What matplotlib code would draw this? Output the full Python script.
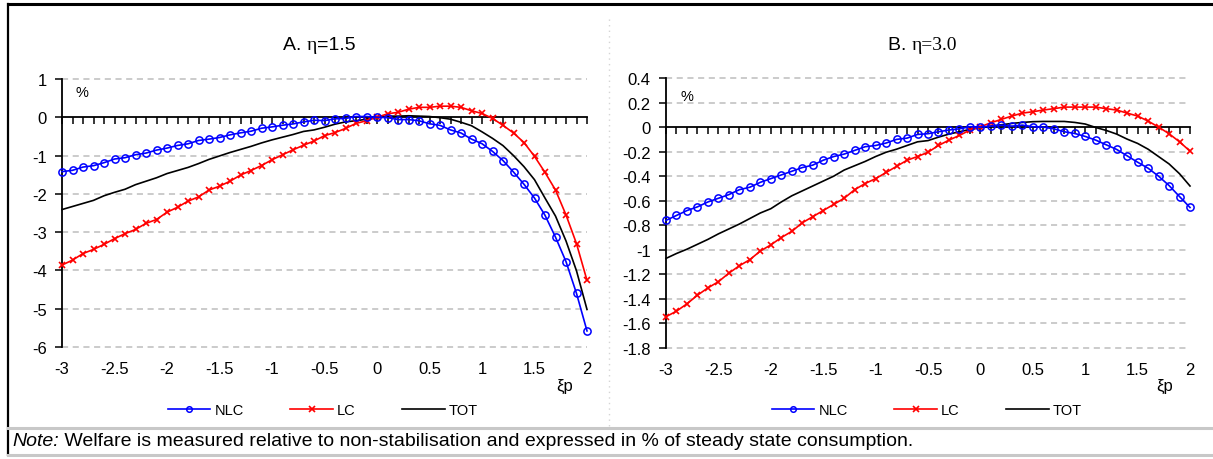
import matplotlib
matplotlib.use('Agg')
import matplotlib.pyplot as plt
from matplotlib.lines import Line2D
from matplotlib.ticker import FuncFormatter, FixedLocator

plt.rcParams['font.family'] = ['Liberation Sans', 'DejaVu Sans']
plt.rcParams['axes.unicode_minus'] = False

# ---------------- data ----------------
xi_p = [round(-3 + 0.1 * i, 1) for i in range(51)]

A_NLC = [-1.42, -1.385, -1.30, -1.264, -1.186, -1.09, -1.056, -0.978, -0.935, -0.857,
         -0.805, -0.736, -0.693, -0.606, -0.571, -0.528, -0.459, -0.407, -0.364, -0.286,
         -0.251, -0.208, -0.173, -0.121, -0.078, -0.087, -0.04, -0.03, 0.02, 0.02,
         0.0, -0.01, -0.06, -0.06, -0.09, -0.17, -0.21, -0.33, -0.41, -0.57,
         -0.69, -0.89, -1.13, -1.43, -1.75, -2.11, -2.56, -3.13, -3.77, -4.60, -5.58]
A_LC = [-3.86, -3.73, -3.56, -3.45, -3.32, -3.17, -3.04, -2.93, -2.77, -2.67,
        -2.48, -2.35, -2.19, -2.08, -1.90, -1.80, -1.67, -1.51, -1.39, -1.26,
        -1.11, -0.98, -0.85, -0.73, -0.62, -0.48, -0.40, -0.29, -0.16, -0.09,
        0.0, 0.09, 0.13, 0.21, 0.26, 0.26, 0.29, 0.29, 0.26, 0.17,
        0.10, -0.03, -0.21, -0.41, -0.66, -1.02, -1.44, -1.90, -2.55, -3.30, -4.26]
A_TOT = [-2.41, -2.33, -2.25, -2.17, -2.05, -1.96, -1.88, -1.76, -1.67, -1.58,
         -1.47, -1.39, -1.31, -1.21, -1.10, -1.01, -0.92, -0.84, -0.76, -0.67,
         -0.59, -0.52, -0.45, -0.37, -0.33, -0.26, -0.18, -0.12, -0.09, -0.05,
         0.0, 0.03, 0.03, 0.04, 0.03, 0.02, -0.01, -0.05, -0.13, -0.22,
         -0.38, -0.55, -0.74, -1.00, -1.29, -1.63, -2.11, -2.58, -3.23, -4.01, -5.02]

B_NLC = [-0.76, -0.72, -0.68, -0.65, -0.61, -0.58, -0.55, -0.51, -0.49, -0.45,
         -0.42, -0.39, -0.36, -0.33, -0.31, -0.27, -0.24, -0.22, -0.19, -0.16,
         -0.15, -0.13, -0.10, -0.09, -0.06, -0.054, -0.038, -0.024, -0.014, 0.003,
         0.0, 0.008, 0.016, 0.008, 0.016, 0.003, 0.0, -0.014, -0.038, -0.052,
         -0.076, -0.106, -0.144, -0.182, -0.234, -0.286, -0.335, -0.40, -0.476, -0.566, -0.655]
B_LC = [-1.545, -1.50, -1.44, -1.37, -1.31, -1.26, -1.19, -1.13, -1.08, -1.01,
        -0.96, -0.90, -0.85, -0.78, -0.73, -0.68, -0.63, -0.58, -0.51, -0.46,
        -0.42, -0.37, -0.32, -0.27, -0.24, -0.205, -0.150, -0.106, -0.068, -0.024,
        0.003, 0.035, 0.063, 0.09, 0.114, 0.125, 0.139, 0.150, 0.163, 0.163,
        0.163, 0.163, 0.150, 0.139, 0.114, 0.09, 0.049, 0.0, -0.054, -0.12, -0.196]
B_TOT = [-1.07, -1.03, -0.995, -0.955, -0.915, -0.87, -0.83, -0.79, -0.745, -0.70,
         -0.665, -0.61, -0.56, -0.52, -0.48, -0.44, -0.40, -0.35, -0.315, -0.28,
         -0.24, -0.205, -0.18, -0.15, -0.12, -0.11, -0.082, -0.057, -0.038, -0.019,
         -0.005, 0.008, 0.019, 0.030, 0.038, 0.044, 0.046, 0.046, 0.046, 0.038,
         0.025, -0.003, -0.027, -0.057, -0.098, -0.133, -0.18, -0.24, -0.30, -0.38, -0.48]

x_tick_labels = ['-3', '-2.5', '-2', '-1.5', '-1', '-0.5', '0', '0.5', '1', '1.5', '2']
x_ticks = [-3, -2.5, -2, -1.5, -1, -0.5, 0, 0.5, 1, 1.5, 2]
A_yticks = [1, 0, -1, -2, -3, -4, -5, -6]
B_yticks = [0.4, 0.2, 0, -0.2, -0.4, -0.6, -0.8, -1, -1.2, -1.4, -1.6, -1.8]
series_names = ['NLC', 'LC', 'TOT']

BLUE = '#0000FF'
RED = '#FF0000'

W, H = 1213, 460
fig = plt.figure(figsize=(W / 100, H / 100), dpi=100)


def fx(px):
    return px / W


def fy(py):
    return 1 - py / H


def panel(rect, nlc, lc, tot, yticks, title_parts, title_cx, pct_pos, xi_pos, leg_cx):
    ax = fig.add_axes(rect)
    ax.set_xlim(-3, 2)
    ax.set_ylim(min(yticks), max(yticks))
    for s in ['top', 'right']:
        ax.spines[s].set_visible(False)
    ax.spines['left'].set_linewidth(1.3)
    ax.spines['bottom'].set_position(('data', 0))
    ax.spines['bottom'].set_linewidth(1.3)
    ax.xaxis.set_major_locator(FixedLocator(xi_p))
    ax.tick_params(axis='x', direction='out', length=5, width=1.1, labelbottom=False)
    ax.yaxis.set_major_locator(FixedLocator(yticks))
    ax.yaxis.set_major_formatter(FuncFormatter(lambda v, p: f"{v:g}"))
    ax.tick_params(axis='y', direction='out', length=5, width=1.1, labelsize=12, pad=6)
    for yv in yticks:
        if yv != 0:
            ax.axhline(yv, color='#BDBDBD', lw=1.1, ls=(0, (4, 3)), zorder=0, clip_on=False)
    sec = ax.secondary_xaxis('bottom')
    sec.set_xticks(x_ticks)
    sec.set_xticklabels(x_tick_labels)
    sec.spines['bottom'].set_visible(False)
    sec.tick_params(length=0, labelsize=12, pad=10)

    ax.plot(xi_p, tot, color='black', lw=1.2, zorder=3, clip_on=False)
    ax.plot(xi_p, lc, color=RED, lw=1.2, marker='x', ms=5, mew=1.2, zorder=4, clip_on=False)
    ax.plot(xi_p, nlc, color=BLUE, lw=1.2, marker='o', ms=5.2, mfc='none', mew=1.1,
            zorder=5, clip_on=False)

    ax.text(pct_pos[0], pct_pos[1], '%', transform=ax.transAxes, fontsize=10.5,
            ha='left', va='center')
    fig.text(fx(xi_pos[0]), fy(xi_pos[1]), 'ξp', fontsize=12, ha='center', va='center')

    handles = [Line2D([], [], color=BLUE, lw=1.2, marker='o', ms=4, mfc='none', mew=1.1),
               Line2D([], [], color=RED, lw=1.2, marker='x', ms=4, mew=1.2),
               Line2D([], [], color='black', lw=1.2)]
    fig.legend(handles, series_names, loc='center', bbox_to_anchor=(fx(leg_cx), fy(411)),
               ncol=3, frameon=False, fontsize=10.5, handlelength=2.9,
               handletextpad=0.3, columnspacing=3.2, borderpad=0)

    # title built from pieces (sans + serif eta)
    r = fig.canvas.get_renderer()
    texts = []
    for txt, fam in title_parts:
        t = fig.text(0, fy(45), txt, fontsize=14, ha='left', va='center',
                     family=fam)
        texts.append(t)
    widths = [t.get_window_extent(r).width for t in texts]
    x0 = title_cx - sum(widths) / 2
    for t, w in zip(texts, widths):
        t.set_x(fx(x0))
        x0 += w
    return ax


panel([fx(62), fy(348), fx(587 - 62), (348 - 80) / H], A_NLC, A_LC, A_TOT, A_yticks,
      [('A. ', 'Liberation Sans'), ('η', 'Liberation Serif'), ('=1.5', 'Liberation Sans')],
      319, (0.025, 0.951), (565, 386), 323)
panel([fx(666), fy(349), fx(1190 - 666), (349 - 79) / H], B_NLC, B_LC, B_TOT, B_yticks,
      [('B. ', 'Liberation Sans'), ('η=3.0', 'Liberation Serif')],
      923, (0.027, 0.933), (1165, 386), 927)

# frame and separators
frame = [((8, 5), (1213, 5), 'black', 2.2),
         ((8, 5), (8, 456), 'black', 1.6),
         ((8, 429), (1213, 429), '#C8C8C8', 2.2),
         ((8, 456), (1213, 456), '#C8C8C8', 2.2)]
for (x1, y1), (x2, y2), c, lw in frame:
    fig.add_artist(Line2D([fx(x1), fx(x2)], [fy(y1), fy(y2)], color=c, lw=lw))
fig.add_artist(Line2D([fx(609), fx(609)], [fy(20), fy(428)], color='#D5D5D5', lw=1,
                      ls=(0, (1, 3))))

# note
r = fig.canvas.get_renderer()
t1 = fig.text(fx(12), fy(442), 'Note:', fontsize=14, style='italic', ha='left', va='center')
w1 = t1.get_window_extent(r).width
fig.text(fx(12 + w1), fy(442),
         ' Welfare is measured relative to non-stabilisation and expressed in % of steady state consumption.',
         fontsize=14, ha='left', va='center')

fig.savefig('out.png', dpi=100)
